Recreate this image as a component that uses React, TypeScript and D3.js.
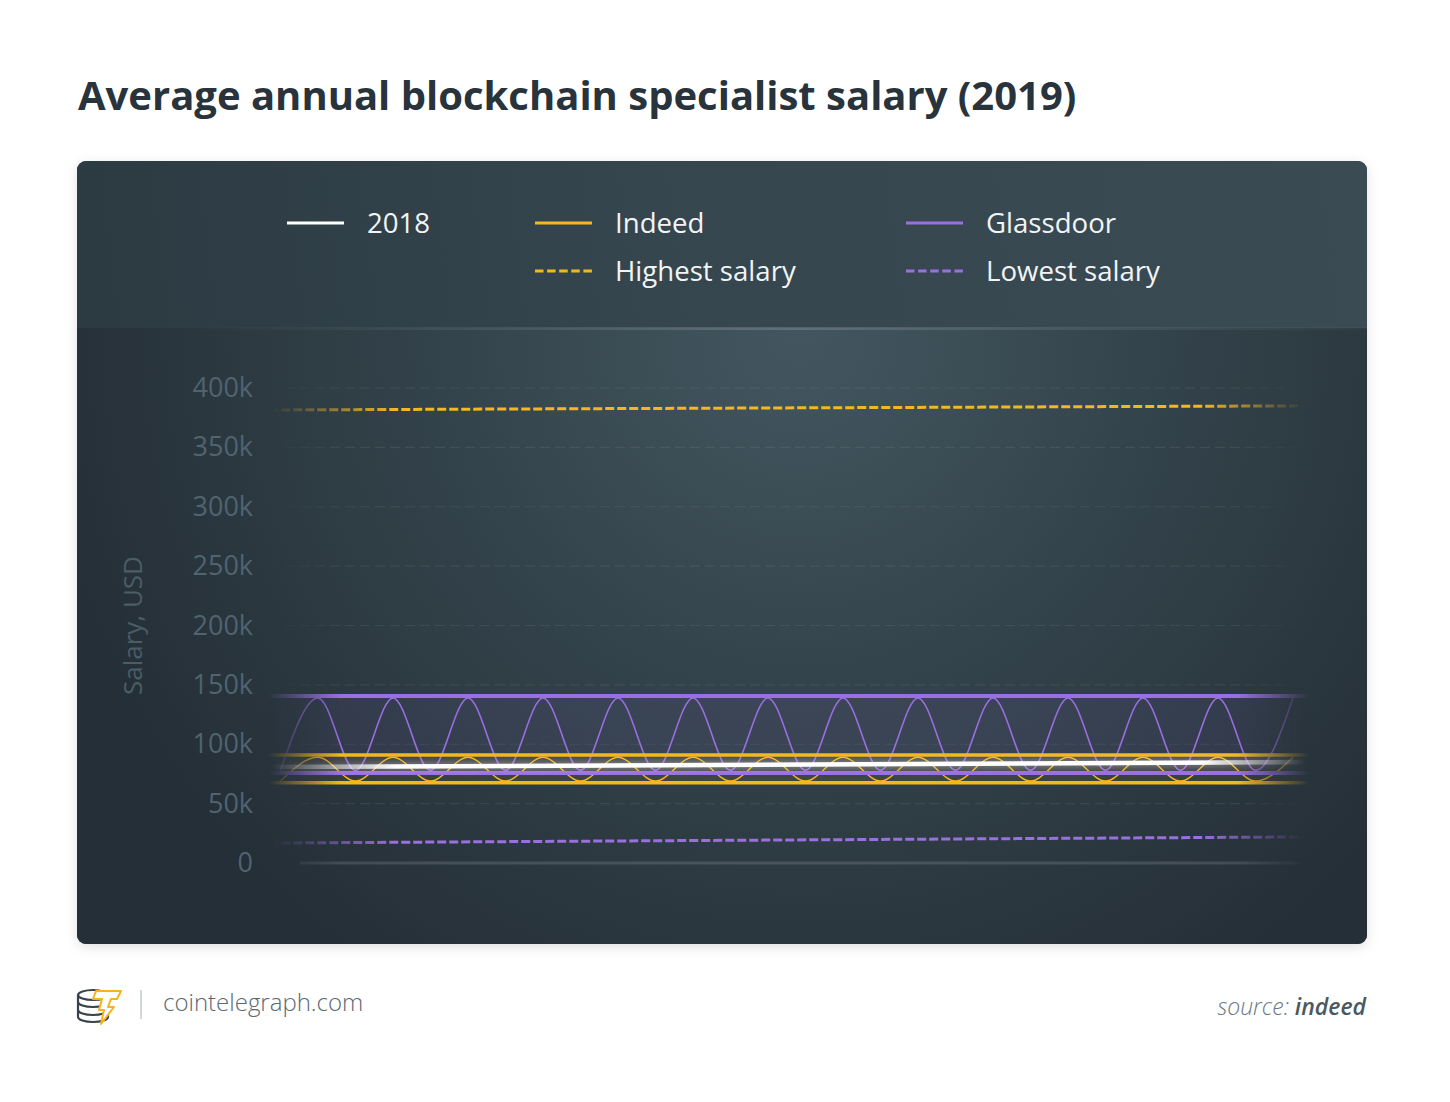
import * as d3 from "d3";

// y values in thousands of USD
const yTicks = [0, 50, 100, 150, 200, 250, 300, 350, 400];

// shared x index (half-period steps)
const steps = [0, 1, 2, 3, 4, 5, 6, 7, 8, 9, 10, 11, 12, 13, 14, 15, 16, 17, 18, 19, 20, 21, 22, 23, 24, 25, 26, 27];
const glassdoorWave = [78, 139, 78, 139, 78, 139, 78, 139, 78, 139, 78, 139, 78, 139, 78, 139, 78, 139, 78, 139, 78, 139, 78, 139, 78, 139, 78, 139];
const indeedWave = [69, 89, 69, 89, 69, 89, 69, 89, 69, 89, 69, 89, 69, 89, 69, 89, 69, 89, 69, 89, 69, 89, 69, 89, 69, 89, 69, 89];

// straight series: [start, end]
const lineEnds = [-0.3, 27.4];
const salary2018 = [80.8, 85];
const glassdoorHigh = [140.6, 140.6];
const glassdoorLow = [75.8, 75.8];
const indeedHigh = [90.9, 90.9];
const indeedLow = [67.6, 67.6];
const highestSalary = [381.5, 385];
const lowestSalary = [16.8, 22];

const legendLabels = ["2018", "Indeed", "Glassdoor", "Highest salary", "Lowest salary"];
const legendColors = ["#ffffff", "#f5b71f", "#9a6fe0", "#f5b71f", "#9a6fe0"];
const legendDashed = [false, false, false, true, true];

const YELLOW = "#f5b71f";
const PURPLE = "#9a6fe0";

export default function App() {
  const x = d3.scaleLinear().domain([0, 27]).range([280.5, 1293]);
  const y = d3.scaleLinear().domain([0, 400]).range([863, 388]);

  const wave = d3
    .line<number>()
    .x((_, i) => x(steps[i]))
    .y((d) => y(d))
    .curve(d3.curveMonotoneX);

  const straight = d3
    .line<number>()
    .x((_, i) => x(lineEnds[i]))
    .y((d) => y(d));

  const band = (hi: number[], lo: number[]) =>
    d3
      .area<number>()
      .x((_, i) => x(lineEnds[i]))
      .y0((_, i) => y(lo[i]))
      .y1((_, i) => y(hi[i]))(hi) ?? "";

  const legendPos = [
    [287, 223],
    [535, 223],
    [906, 223],
    [535, 271],
    [906, 271],
  ];

  return (
    <svg
      width={1450}
      height={1102}
      style={{ position: "absolute", left: 0, top: 0, fontFamily: "'Open Sans', sans-serif" }}
    >
      <defs>
        <linearGradient id="cardBg" x1="0" y1="1" x2="1" y2="0">
          <stop offset="0" stopColor="#252f37" />
          <stop offset="0.6" stopColor="#33434b" />
          <stop offset="1" stopColor="#3a4a53" />
        </linearGradient>
        <linearGradient id="topBand" gradientUnits="userSpaceOnUse" x1="77" y1="328" x2="1367" y2="161">
          <stop offset="0" stopColor="#2c3a42" />
          <stop offset="0.45" stopColor="#35464e" />
          <stop offset="1" stopColor="#3b4b54" />
        </linearGradient>
        <radialGradient id="plotBg" gradientUnits="userSpaceOnUse" cx="800" cy="335" r="760">
          <stop offset="0" stopColor="#43565f" />
          <stop offset="0.45" stopColor="#34444c" />
          <stop offset="1" stopColor="#252f37" />
        </radialGradient>
        <linearGradient id="sepGrad" gradientUnits="userSpaceOnUse" x1="180" y1="0" x2="1367" y2="0">
          <stop offset="0" stopColor="#ffffff" stopOpacity="0" />
          <stop offset="0.5" stopColor="#ffffff" stopOpacity="0.16" />
          <stop offset="1" stopColor="#ffffff" stopOpacity="0.02" />
        </linearGradient>
        <linearGradient id="fadeShortG" gradientUnits="userSpaceOnUse" x1="268" y1="0" x2="1310" y2="0">
          <stop offset="0" stopColor="#fff" stopOpacity="0" />
          <stop offset="0.07" stopColor="#fff" stopOpacity="1" />
          <stop offset="0.93" stopColor="#fff" stopOpacity="1" />
          <stop offset="1" stopColor="#fff" stopOpacity="0" />
        </linearGradient>
        <linearGradient id="fadeLongG" gradientUnits="userSpaceOnUse" x1="272" y1="0" x2="1305" y2="0">
          <stop offset="0" stopColor="#fff" stopOpacity="0" />
          <stop offset="0.12" stopColor="#fff" stopOpacity="1" />
          <stop offset="0.9" stopColor="#fff" stopOpacity="1" />
          <stop offset="1" stopColor="#fff" stopOpacity="0" />
        </linearGradient>
        <mask id="fadeShort" maskUnits="userSpaceOnUse" x="0" y="0" width="1450" height="1102">
          <rect x="0" y="0" width="1450" height="1102" fill="url(#fadeShortG)" />
        </mask>
        <mask id="fadeLong" maskUnits="userSpaceOnUse" x="0" y="0" width="1450" height="1102">
          <rect x="0" y="0" width="1450" height="1102" fill="url(#fadeLongG)" />
        </mask>
        <clipPath id="plotClip">
          <rect x="77" y="328" width="1290" height="616" rx="8" />
        </clipPath>
        <filter id="shadow" x="-5%" y="-5%" width="110%" height="115%">
          <feDropShadow dx="0" dy="3" stdDeviation="6" floodColor="#000" floodOpacity="0.12" />
        </filter>
        <filter id="glow" x="-5%" y="-200%" width="110%" height="500%">
          <feGaussianBlur stdDeviation="3" />
        </filter>
      </defs>

      <rect width={1450} height={1102} fill="#ffffff" />

      <text x={78} y={110} fontSize={40} fontWeight={700} fill="#28333b">
        Average annual blockchain specialist salary (2019)
      </text>

      {/* card */}
      <rect x={77} y={161} width={1290} height={783} rx={9} fill="url(#cardBg)" filter="url(#shadow)" />
      <path d="M86,161 H1358 A9,9 0 0 1 1367,170 V328 H77 V170 A9,9 0 0 1 86,161 Z" fill="url(#topBand)" />
      <path d="M77,328 H1367 V935 A9,9 0 0 1 1358,944 H86 A9,9 0 0 1 77,935 Z" fill="url(#plotBg)" />
      <line x1={180} x2={1367} y1={328.5} y2={328.5} stroke="url(#sepGrad)" strokeWidth={3} />

      {/* legend */}
      {legendLabels.map((lab, i) => (
        <g key={lab} transform={`translate(${legendPos[i][0]},${legendPos[i][1]})`}>
          <line
            x1={0}
            x2={57}
            y1={0}
            y2={0}
            stroke={legendColors[i]}
            strokeWidth={3}
            strokeDasharray={legendDashed[i] ? "8.5 3.6" : undefined}
          />
          <text x={80} y={10} fontSize={27.6} fill="#f2f4f5">
            {lab}
          </text>
        </g>
      ))}

      {/* y axis */}
      <text
        transform={`translate(142,${y(200) + 0}) rotate(-90)`}
        textAnchor="middle"
        fontSize={26}
        fill="#4a5d67"
      >
        Salary, USD
      </text>
      {yTicks.map((t) => (
        <text key={t} x={253} y={y(t) + 9} textAnchor="end" fontSize={27} fill="#4f6470">
          {t === 0 ? "0" : `${t}k`}
        </text>
      ))}

      <g clipPath="url(#plotClip)">
        {/* grid */}
        <g mask="url(#fadeShort)">
          {yTicks
            .filter((t) => t > 0)
            .map((t) => (
              <line
                key={t}
                x1={285}
                x2={1300}
                y1={y(t)}
                y2={y(t)}
                stroke="#ffffff"
                strokeOpacity={0.07}
                strokeWidth={1.2}
                strokeDasharray="10 5"
              />
            ))}
          <line x1={300} x2={1300} y1={y(0)} y2={y(0)} stroke="#ffffff" strokeOpacity={0.13} strokeWidth={3} />
        </g>

        {/* bands */}
        <g mask="url(#fadeShort)">
          <path d={band(glassdoorHigh, glassdoorLow)} fill={PURPLE} fillOpacity={0.08} />
          <path d={band(indeedHigh, indeedLow)} fill={YELLOW} fillOpacity={0.07} />
          <path d={wave(glassdoorWave) ?? ""} fill="none" stroke={PURPLE} strokeWidth={1.6} />
          <path d={wave(indeedWave) ?? ""} fill="none" stroke={YELLOW} strokeWidth={1.4} />
          <path d={straight(glassdoorHigh) ?? ""} fill="none" stroke={PURPLE} strokeWidth={4} />
          <path d={straight(glassdoorLow) ?? ""} fill="none" stroke={PURPLE} strokeWidth={4} />
          <path d={straight(indeedHigh) ?? ""} fill="none" stroke={YELLOW} strokeWidth={3.5} />
          <path d={straight(indeedLow) ?? ""} fill="none" stroke={YELLOW} strokeWidth={3.5} />
        </g>

        <g mask="url(#fadeLong)">
          <path
            d={straight(salary2018) ?? ""}
            fill="none"
            stroke="#ffffff"
            strokeOpacity={0.3}
            strokeWidth={8}
            filter="url(#glow)"
          />
          <path d={straight(salary2018) ?? ""} fill="none" stroke="#ffffff" strokeWidth={4.5} />
          <path
            d={straight(highestSalary) ?? ""}
            fill="none"
            stroke={YELLOW}
            strokeWidth={3}
            strokeDasharray="9 3"
          />
          <path
            d={straight(lowestSalary) ?? ""}
            fill="none"
            stroke={PURPLE}
            strokeWidth={3}
            strokeDasharray="9 3"
          />
        </g>
      </g>

      {/* footer */}
      <g fill="none" stroke="#3b444b" strokeWidth={2.2}>
        <ellipse cx={93} cy={995} rx={15} ry={5} />
        <path d="M78,995 V1017 A15,5 0 0 0 108,1017 V995" />
        <path d="M78,1002 A15,5 0 0 0 108,1002" />
        <path d="M78,1010 A15,5 0 0 0 108,1010" />
      </g>
      <path
        d="M96,991 H121 L117,999 H111 L108,1007 H114 L101,1024 L104,1010 H99 L102,999 H93 Z"
        fill="#ffffff"
        stroke="#f5b41e"
        strokeWidth={2}
        strokeLinejoin="round"
      />
      <line x1={141} x2={141} y1={990} y2={1019} stroke="#c5cbcf" strokeWidth={1.5} />
      <text x={163} y={1011} fontSize={24} fontWeight={300} fill="#5b6871">
        cointelegraph.com
      </text>
      <text x={1366} y={1015} textAnchor="end" fontSize={23} fontStyle="italic">
        <tspan fontWeight={300} fill="#6b777f">
          source:{" "}
        </tspan>
        <tspan fontWeight={600} fill="#4b5861">
          indeed
        </tspan>
      </text>
    </svg>
  );
}
